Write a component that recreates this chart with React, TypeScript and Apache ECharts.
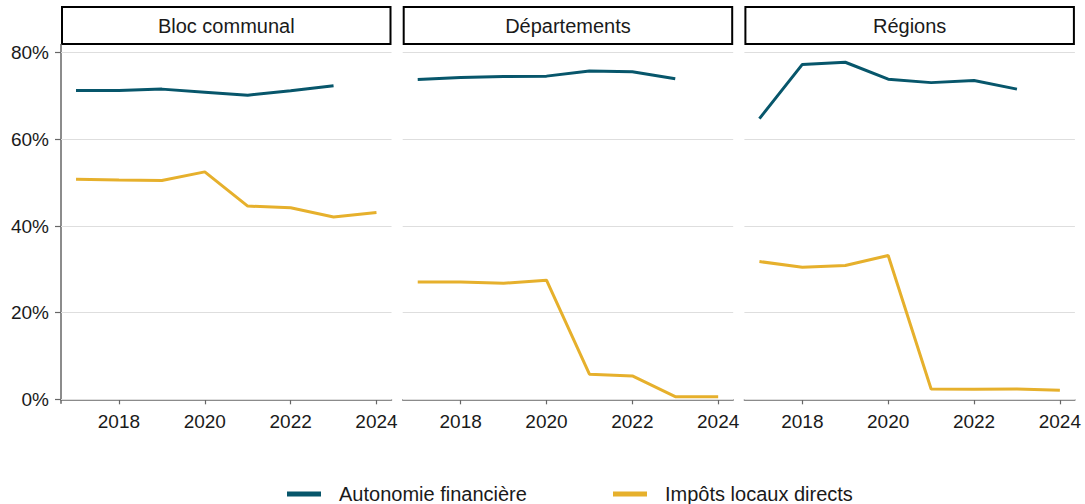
import React, { useEffect, useRef } from "react";
import * as echarts from "echarts";

const years = [2017, 2018, 2019, 2020, 2021, 2022, 2023, 2024];
const panels = ["Bloc communal", "Départements", "Régions"];
const seriesNames = ["Autonomie financière", "Impôts locaux directs"];

const autonomieBloc = [71.3, 71.3, 71.6, 70.9, 70.2, 71.2, 72.4, null];
const impotsBloc = [50.8, 50.6, 50.5, 52.5, 44.6, 44.2, 42.1, 43.1];
const autonomieDep = [73.8, 74.3, 74.5, 74.6, 75.8, 75.6, 74.0, null];
const impotsDep = [27.1, 27.1, 26.8, 27.5, 5.8, 5.4, 0.6, 0.6];
const autonomieReg = [64.8, 77.3, 77.8, 73.9, 73.1, 73.6, 71.6, null];
const impotsReg = [31.8, 30.5, 30.9, 33.2, 2.4, 2.3, 2.4, 2.1];

const xTicks = [2018, 2020, 2022, 2024];
const yTicks = [0, 20, 40, 60, 80];

const colors = ["#07566b", "#e6b02c"];
const FONT = "Liberation Sans";

export default function App() {
  const ref = useRef<HTMLDivElement>(null);
  useEffect(() => {
    if (!ref.current) return;
    const chart = echarts.init(ref.current, undefined, { renderer: "svg" });
    const data = [
      [autonomieBloc, impotsBloc],
      [autonomieDep, impotsDep],
      [autonomieReg, impotsReg],
    ];
    const lefts = [61, 402.7, 744.4];
    const W = 330.5;
    const TOP = 44.5;
    const H = 358.8;
    const grids = lefts.map((l) => ({ left: l, top: TOP, width: W, height: H }));
    const xAxes = lefts.map((_, i) => ({
      type: "value",
      gridIndex: i,
      min: 2016.65,
      max: 2024.35,
      axisLine: { show: true, lineStyle: { color: "#666", width: 1.5 } },
      axisTick: { show: true, customValues: xTicks, length: 5, lineStyle: { color: "#666", width: 1.2 } },
      axisLabel: {
        customValues: xTicks,
        color: "#1a1a1a",
        fontSize: 19,
        fontFamily: FONT,
        margin: 9,
        formatter: (v: number) => String(Math.round(v)),
      },
      splitLine: { show: false },
    }));
    const yAxes = lefts.map((_, i) => ({
      type: "value",
      gridIndex: i,
      min: -0.92,
      max: 81.9,
      axisLine: { show: i === 0, lineStyle: { color: "#666", width: 1.5 } },
      axisTick: { show: i === 0, customValues: yTicks, length: 6, lineStyle: { color: "#666", width: 1.2 } },
      axisLabel: {
        show: i === 0,
        customValues: yTicks,
        color: "#1a1a1a",
        fontSize: 19,
        fontFamily: FONT,
        margin: 12,
        formatter: (v: number) => Math.round(v) + "%",
      },
      splitLine: { show: false },
    }));
    const series: any[] = [];
    data.forEach((pair, i) => {
      pair.forEach((vals, s) => {
        series.push({
          type: "line",
          name: seriesNames[s],
          xAxisIndex: i,
          yAxisIndex: i,
          data: years.map((y, k) => [y, vals[k]]),
          showSymbol: false,
          symbol: "none",
          connectNulls: false,
          lineStyle: { color: colors[s], width: 3 },
          itemStyle: { color: colors[s] },
          z: 3,
          markLine:
            s === 0
              ? {
                  silent: true,
                  symbol: "none",
                  label: { show: false },
                  lineStyle: { color: "#dedede", width: 1.2, type: "solid" },
                  data: yTicks.map((t) => ({ yAxis: t })),
                  z: 1,
                }
              : undefined,
        });
      });
    });
    const graphics: any[] = lefts.map((l, i) => ({
      type: "group",
      children: [
        {
          type: "rect",
          shape: { x: l + 1, y: 7, width: W - 2, height: 37 },
          style: { fill: "#fff", stroke: "#000", lineWidth: 2 },
        },
        {
          type: "text",
          x: l + W / 2,
          y: 26,
          style: {
            text: panels[i],
            fill: "#1a1a1a",
            font: `20px "${FONT}"`,
            textAlign: "center",
            textVerticalAlign: "middle",
          },
        },
      ],
    }));
    const legendText = { fontSize: 20, fontFamily: FONT, color: "#1a1a1a", padding: [0, 0, 0, 13] };
    chart.setOption({
      animation: false,
      grid: grids,
      xAxis: xAxes,
      yAxis: yAxes,
      series,
      graphic: graphics,
      legend: [
        {
          left: 287,
          top: 484,
          padding: 0,
          data: [{ name: seriesNames[0], icon: "rect" }],
          itemWidth: 34,
          itemHeight: 5,
          textStyle: legendText,
        },
        {
          left: 613,
          top: 484,
          padding: 0,
          data: [{ name: seriesNames[1], icon: "rect" }],
          itemWidth: 34,
          itemHeight: 5,
          textStyle: legendText,
        },
      ],
    });
    return () => chart.dispose();
  }, []);
  return <div ref={ref} style={{ width: 1085, height: 504, position: "absolute", left: 0, top: 0 }} />;
}
